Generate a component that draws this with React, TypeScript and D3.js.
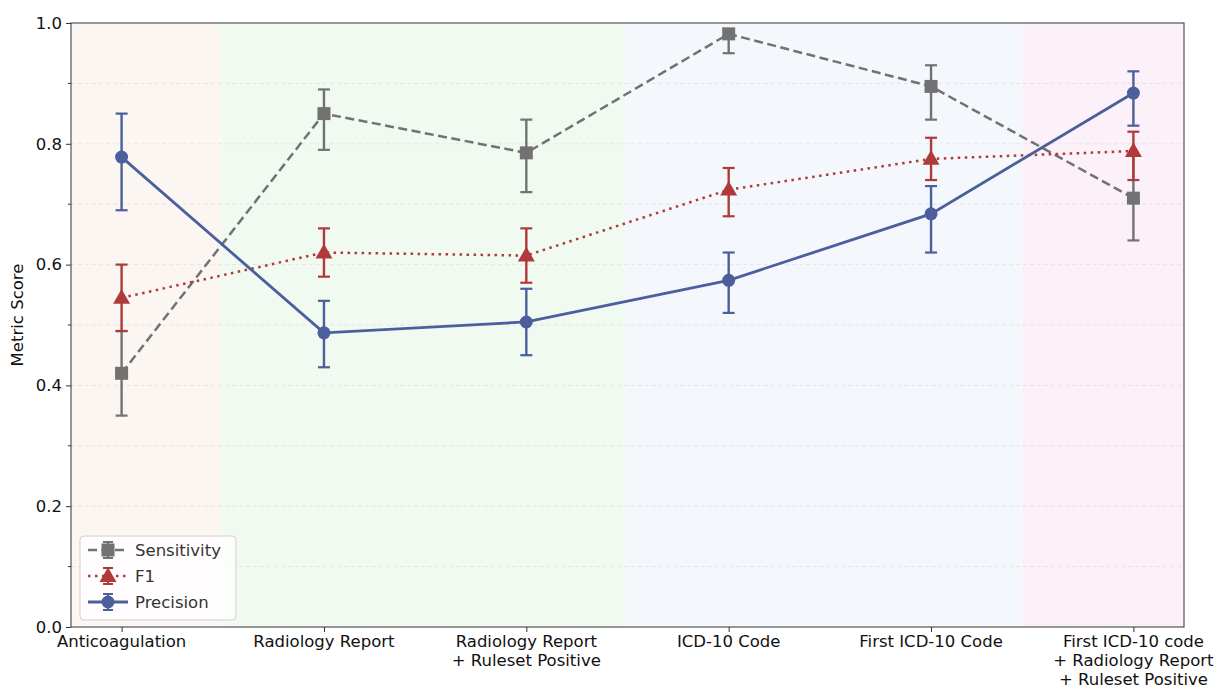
import React, { useEffect, useRef } from 'react';
import * as d3 from 'd3';

const categories = [
  'Anticoagulation',
  'Radiology Report',
  'Radiology Report\n+ Ruleset Positive',
  'ICD-10 Code',
  'First ICD-10 Code',
  'First ICD-10 code\n+ Radiology Report\n+ Ruleset Positive',
];

const sensitivity = [0.42, 0.85, 0.785, 0.982, 0.895, 0.71];
const sensitivityLow = [0.35, 0.79, 0.72, 0.95, 0.84, 0.64];
const sensitivityHigh = [0.49, 0.89, 0.84, 0.99, 0.93, 0.78];

const f1 = [0.545, 0.62, 0.615, 0.724, 0.775, 0.788];
const f1Low = [0.49, 0.58, 0.57, 0.68, 0.74, 0.74];
const f1High = [0.6, 0.66, 0.66, 0.76, 0.81, 0.82];

const precision = [0.778, 0.487, 0.505, 0.574, 0.684, 0.884];
const precisionLow = [0.69, 0.43, 0.45, 0.52, 0.62, 0.83];
const precisionHigh = [0.85, 0.54, 0.56, 0.62, 0.73, 0.92];

// background bands, in category index units
const bandEdges = [-0.25, 0.49, 2.49, 4.45, 5.25];
const bandColors = ['#fcf6f2', '#f0faf1', '#f4f8fc', '#fcf1f9'];

const yTicks = [0, 0.2, 0.4, 0.6, 0.8, 1.0];

const series = [
  { name: 'Sensitivity', values: sensitivity, low: sensitivityLow, high: sensitivityHigh, color: '#727272', dash: '9,4.5', marker: 'square', width: 2.5 },
  { name: 'F1', values: f1, low: f1Low, high: f1High, color: '#b03a3a', dash: '2.5,4.5', marker: 'triangle', width: 2.5 },
  { name: 'Precision', values: precision, low: precisionLow, high: precisionHigh, color: '#4a5f9c', dash: null, marker: 'circle', width: 2.8 },
];

const FONT = 'DejaVu Sans, sans-serif';
const FS = 16.5;

const drawMarker = (g, type, x, y, color) => {
  if (type === 'square') {
    g.append('rect').attr('x', x - 6.5).attr('y', y - 6.5).attr('width', 13).attr('height', 13).attr('fill', color);
  } else if (type === 'triangle') {
    g.append('path')
      .attr('d', d3.symbol().type(d3.symbolTriangle).size(125)())
      .attr('transform', `translate(${x},${y + 1})`)
      .attr('fill', color);
  } else {
    g.append('circle').attr('cx', x).attr('cy', y).attr('r', 6.5).attr('fill', color);
  }
};

const App = () => {
  const svgRef = useRef(null);

  useEffect(() => {
    const margin = { top: 23, right: 43, bottom: 62, left: 71 };
    const width = 1227 - margin.left - margin.right;
    const height = 689 - margin.top - margin.bottom;

    const root = d3.select(svgRef.current);
    root.selectAll('*').remove();
    root.attr('width', 1227).attr('height', 689);

    const svg = root.append('g').attr('transform', `translate(${margin.left},${margin.top})`);

    const x = d3.scaleLinear().domain([-0.25, 5.25]).range([0, width]);
    const y = d3.scaleLinear().domain([0, 1]).range([height, 0]);

    // bands
    svg.selectAll('rect.band')
      .data(bandColors)
      .enter()
      .append('rect')
      .attr('class', 'band')
      .attr('x', (d, i) => x(bandEdges[i]))
      .attr('width', (d, i) => x(bandEdges[i + 1]) - x(bandEdges[i]))
      .attr('y', 0)
      .attr('height', height)
      .attr('fill', d => d);

    // grid
    svg.selectAll('line.grid')
      .data(d3.range(1, 10).map(d => d / 10))
      .enter()
      .append('line')
      .attr('x1', 0)
      .attr('x2', width)
      .attr('y1', d => y(d))
      .attr('y2', d => y(d))
      .attr('stroke', '#d8d8d8')
      .attr('stroke-opacity', 0.7)
      .attr('stroke-width', 0.8)
      .attr('stroke-dasharray', '4,3');

    const lineGen = d3.line().x((d, i) => x(i)).y(d => y(d));

    series.forEach(s => {
      const g = svg.append('g');
      // error bars
      s.values.forEach((v, i) => {
        const cx = x(i);
        g.append('line').attr('x1', cx).attr('x2', cx).attr('y1', y(s.low[i])).attr('y2', y(s.high[i]))
          .attr('stroke', s.color).attr('stroke-width', 2.4);
        [s.low[i], s.high[i]].forEach(e => {
          g.append('line').attr('x1', cx - 6).attr('x2', cx + 6).attr('y1', y(e)).attr('y2', y(e))
            .attr('stroke', s.color).attr('stroke-width', 2.2);
        });
      });
      g.append('path')
        .datum(s.values)
        .attr('d', lineGen)
        .attr('fill', 'none')
        .attr('stroke', s.color)
        .attr('stroke-width', s.width)
        .attr('stroke-dasharray', s.dash);
      s.values.forEach((v, i) => drawMarker(g, s.marker, x(i), y(v), s.color));
    });

    // spines
    svg.append('rect').attr('x', 0).attr('y', 0).attr('width', width).attr('height', height)
      .attr('fill', 'none').attr('stroke', '#333').attr('stroke-width', 1);

    // y axis
    const yAxis = svg.append('g')
      .call(d3.axisLeft(y).tickValues(yTicks).tickFormat(d3.format('.1f')).tickSize(5).tickSizeOuter(0));
    yAxis.select('.domain').remove();
    yAxis.selectAll('text').attr('font-family', FONT).attr('font-size', FS).attr('fill', '#111').attr('dx', '-1');
    yAxis.selectAll('line').attr('stroke', '#333');

    // minor ticks
    svg.selectAll('line.minor')
      .data(d3.range(1, 10, 2).map(d => d / 10))
      .enter()
      .append('line')
      .attr('x1', -3)
      .attr('x2', 0)
      .attr('y1', d => y(d))
      .attr('y2', d => y(d))
      .attr('stroke', '#333');

    // x axis
    const xAxis = svg.append('g')
      .attr('transform', `translate(0,${height})`)
      .call(d3.axisBottom(x).tickValues(d3.range(categories.length)).tickFormat(() => '').tickSize(5).tickSizeOuter(0));
    xAxis.select('.domain').remove();
    xAxis.selectAll('line').attr('stroke', '#333');

    categories.forEach((c, i) => {
      const t = svg.append('text')
        .attr('x', x(i))
        .attr('y', height + 20)
        .attr('text-anchor', 'middle')
        .attr('font-family', FONT)
        .attr('font-size', FS)
        .attr('fill', '#111');
      c.split('\n').forEach((line, j) => {
        t.append('tspan').attr('x', x(i)).attr('dy', j === 0 ? 0 : 19).text(line);
      });
    });

    // y label
    svg.append('text')
      .attr('transform', 'rotate(-90)')
      .attr('x', -height / 2 + 10)
      .attr('y', -48)
      .attr('text-anchor', 'middle')
      .attr('font-family', FONT)
      .attr('font-size', FS)
      .attr('fill', '#111')
      .text('Metric Score');

    // legend
    const legend = svg.append('g').attr('transform', `translate(9,${height - 91})`);
    legend.append('rect')
      .attr('width', 156).attr('height', 84).attr('rx', 4)
      .attr('fill', '#ffffff').attr('fill-opacity', 0.8)
      .attr('stroke', '#d0d0d0');
    series.forEach((s, i) => {
      const ly = 14 + i * 26;
      const row = legend.append('g');
      row.append('line').attr('x1', 8).attr('x2', 48).attr('y1', ly).attr('y2', ly)
        .attr('stroke', s.color).attr('stroke-width', s.width).attr('stroke-dasharray', s.dash);
      row.append('line').attr('x1', 28).attr('x2', 28).attr('y1', ly - 8).attr('y2', ly + 8)
        .attr('stroke', s.color).attr('stroke-width', 2);
      [ly - 8, ly + 8].forEach(e => {
        row.append('line').attr('x1', 23).attr('x2', 33).attr('y1', e).attr('y2', e)
          .attr('stroke', s.color).attr('stroke-width', 2);
      });
      drawMarker(row, s.marker, 28, ly, s.color);
      row.append('text')
        .attr('x', 55)
        .attr('y', ly + 6)
        .attr('font-family', FONT)
        .attr('font-size', FS)
        .attr('fill', '#333')
        .text(s.name);
    });
  }, []);

  return (
    <svg ref={svgRef} style={{ position: 'absolute', left: 0, top: 0 }}></svg>
  );
};

export default App;
